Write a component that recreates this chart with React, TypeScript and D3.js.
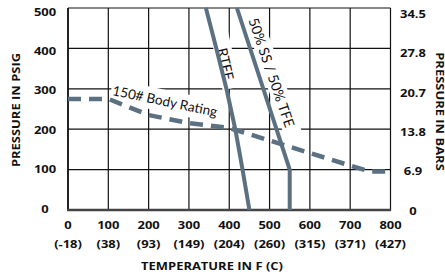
import React from 'react';
import * as d3 from 'd3';

const tempTicks = [0, 100, 200, 300, 400, 500, 600, 700, 800];
const celsiusLabels = ['(-18)', '(38)', '(93)', '(149)', '(204)', '(260)', '(315)', '(371)', '(427)'];
const psiTicks = [0, 100, 200, 300, 400, 500];
const barLabels = ['0', '6.9', '13.8', '20.7', '27.8', '34.5'];

const bodyTemp = [0, 100, 200, 300, 400, 500, 600, 700, 750, 800];
const bodyPsi = [275, 275, 235, 215, 203, 172, 141, 110, 95, 95];

const rtfeTemp = [342, 368, 393, 415, 433, 450];
const rtfePsi = [500, 400, 300, 200, 100, 0];

const ssTemp = [419, 550, 550];
const ssPsi = [500, 100, 0];

const W = 445;
const H = 276;
const LINE = '#5b7181';
const BOLD = "'Open Sans', sans-serif";
const REG = "Lato, 'Open Sans', sans-serif";

export default function App() {
  const x = d3.scaleLinear().domain([0, 800]).range([68, 390.5]);
  const y = d3.scaleLinear().domain([0, 500]).range([210, 8]);
  const yLabL = d3.scaleLinear().domain([0, 500]).range([208, 11]);
  const yLabR = d3.scaleLinear().domain([0, 5]).range([210, 13.5]);

  const line = d3
    .line<[number, number]>()
    .x((d) => x(d[0]))
    .y((d) => y(d[1]));

  const body = line(bodyTemp.map((t, i) => [t, bodyPsi[i]]) as [number, number][]) || '';
  const rtfe = line(rtfeTemp.map((t, i) => [t, rtfePsi[i]]) as [number, number][]) || '';
  const ss = line(ssTemp.map((t, i) => [t, ssPsi[i]]) as [number, number][]) || '';

  const boldText = (
    key: string,
    tx: number,
    ty: number,
    txt: string,
    size: number,
    rot = 0,
    sx = 1.2
  ) => (
    <g key={key} transform={`translate(${tx},${ty}) rotate(${rot}) scale(${sx},1)`}>
      <text
        x={0}
        y={0}
        textAnchor="middle"
        dominantBaseline="central"
        fontFamily={BOLD}
        fontWeight={700}
        fontSize={size}
        fill="#111"
      >
        {txt}
      </text>
    </g>
  );

  return (
    <svg
      width={W}
      height={H}
      viewBox={`0 0 ${W} ${H}`}
      style={{ position: 'absolute', left: 0, top: 0, background: '#fff' }}
    >
      <rect x={0} y={0} width={W} height={H} fill="#fff" />
      {/* grid */}
      <g stroke="#111" strokeWidth={1.2}>
        {tempTicks.map((t) => (
          <line key={'vx' + t} x1={x(t)} x2={x(t)} y1={y(500)} y2={y(0)} />
        ))}
        {psiTicks.map((p) => (
          <line key={'hy' + p} x1={x(0)} x2={x(800)} y1={y(p)} y2={y(p)} />
        ))}
      </g>
      <line x1={x(0)} x2={x(0)} y1={y(500)} y2={y(0)} stroke="#111" strokeWidth={1.6} />
      <line x1={x(0) - 1} x2={x(800) + 0.6} y1={y(0)} y2={y(0)} stroke="#444" strokeWidth={2.6} />

      {/* annotation boxes + labels */}
      <g transform="translate(165,101) rotate(11.8)">
        <rect x={-55} y={-11} width={113} height={22} fill="#fff" />
        <text
          x={0}
          y={0}
          textAnchor="middle"
          dominantBaseline="central"
          fontFamily={REG}
          fontSize={13.5}
          fill="#111"
        >
          150# Body Rating
        </text>
      </g>
      <g transform="translate(226,64) rotate(77.5)">
        <rect x={-31} y={-9} width={56} height={18} fill="#fff" />
        <text
          x={0}
          y={0}
          textAnchor="middle"
          dominantBaseline="central"
          fontFamily={REG}
          fontSize={14}
          fill="#111"
        >
          RTFE
        </text>
      </g>
      <g transform="translate(272,72.5) rotate(71)">
        <rect x={-64} y={-9} width={128} height={18} fill="#fff" />
        <text
          x={0}
          y={0}
          textAnchor="middle"
          dominantBaseline="central"
          fontFamily={REG}
          fontSize={14}
          fill="#111"
        >
          50% SS / 50% TFE
        </text>
      </g>

      {/* data lines */}
      <path d={body} fill="none" stroke={LINE} strokeWidth={4.5} strokeDasharray="13 8" />
      <path d={rtfe} fill="none" stroke={LINE} strokeWidth={4} strokeLinejoin="round" />
      <path d={ss} fill="none" stroke={LINE} strokeWidth={4} strokeLinejoin="round" />

      {/* left tick labels */}
      {psiTicks.map((p) => boldText('l' + p, 45, yLabL(p), String(p), 10.8))}
      {/* right tick labels */}
      {barLabels.map((b, i) => boldText('r' + i, 413, yLabR(i), b, 10.8))}
      {/* bottom tick labels */}
      {tempTicks.map((t) => boldText('b' + t, x(t), 224, String(t), 10.8))}
      {tempTicks.map((t, i) => boldText('c' + t, x(t), 243, celsiusLabels[i], 10.8))}

      {/* titles */}
      {boldText('tx', 212, 265, 'TEMPERATURE IN F (C)', 10.8)}
      {boldText('ty', 15, 110, 'PRESSURE IN PSIG', 10.8, -90)}
      {boldText('ty2', 441, 111.5, 'PRESSURE IN BARS', 10.8, 90)}
    </svg>
  );
}
